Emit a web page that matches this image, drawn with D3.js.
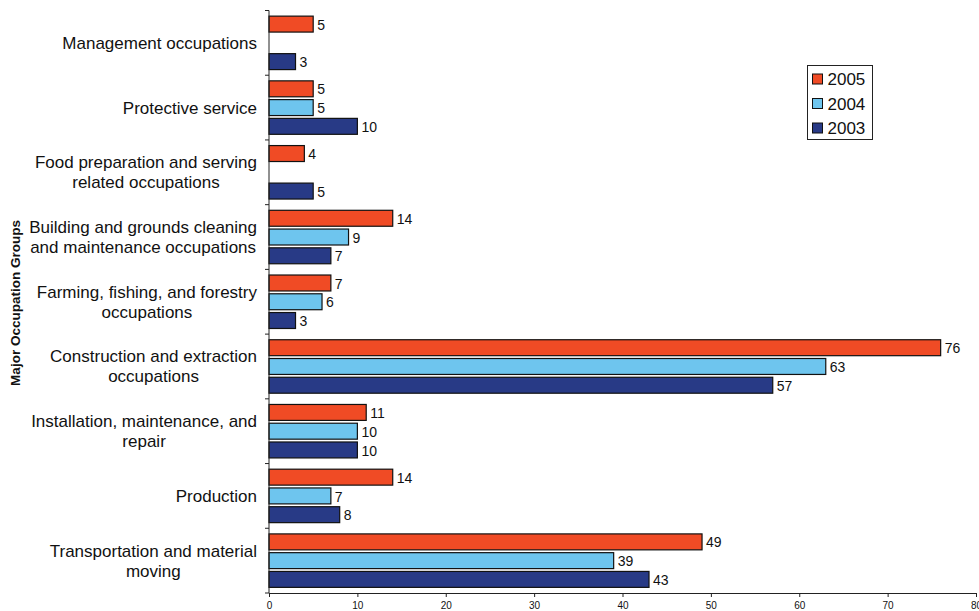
<!DOCTYPE html>
<html>
<head>
<meta charset="utf-8">
<script src="https://cdn.jsdelivr.net/npm/d3@7"></script>
<style>
  html, body { margin: 0; padding: 0; background: #fff; }
  svg { display: block; font-family: "Liberation Sans", Arial, sans-serif; }
</style>
</head>
<body>
<svg id="chart" width="979" height="611"></svg>
<script>
// Occupation groups, top to bottom
const categories = [
  ["Management occupations"],
  ["Protective service"],
  ["Food preparation and serving", "related occupations"],
  ["Building and grounds cleaning", "and maintenance occupations"],
  ["Farming, fishing, and forestry", "occupations"],
  ["Construction and extraction", "occupations"],
  ["Installation, maintenance, and", "repair"],
  ["Production"],
  ["Transportation and material", "moving"]
];
const years = ["2005", "2004", "2003"];
const values2005 = [5, 5, 4, 14, 7, 76, 11, 14, 49];
const values2004 = [null, 5, null, 9, 6, 63, 10, 7, 39];
const values2003 = [3, 10, 5, 7, 3, 57, 10, 8, 43];
const xTicks = [0, 10, 20, 30, 40, 50, 60, 70, 80];
const colors = ["#F04B25", "#6EC5EE", "#283A86"];

const seriesValues = [values2005, values2004, values2003];
const keys = categories.map((c, i) => i);

const svg = d3.select("#chart");
const plotLeft = 269, plotRight = 976, plotTop = 10.5, plotBottom = 593;

const x = d3.scaleLinear().domain([0, 80]).range([plotLeft, plotRight]);
const y = d3.scaleBand().domain(keys).range([plotTop, plotBottom]);
const yInner = d3.scaleBand().domain(years).range([0, y.bandwidth()])
  .paddingInner(0.15).paddingOuter(0.3);
const color = d3.scaleOrdinal().domain(years).range(colors);

// bars and value labels
const groups = svg.append("g").selectAll("g")
  .data(keys).join("g")
  .attr("transform", k => `translate(0,${y(k)})`);

groups.each(function (k) {
  const g = d3.select(this);
  const rows = years.map((yr, s) => ({ yr, v: seriesValues[s][k] }))
    .filter(d => d.v != null);
  g.selectAll("rect").data(rows).join("rect")
    .attr("x", x(0))
    .attr("y", d => yInner(d.yr))
    .attr("width", d => x(d.v) - x(0))
    .attr("height", yInner.bandwidth())
    .attr("fill", d => color(d.yr))
    .attr("stroke", "#111")
    .attr("stroke-width", 1.2);
  g.selectAll("text").data(rows).join("text")
    .attr("x", d => x(d.v) + 4)
    .attr("y", d => yInner(d.yr) + yInner.bandwidth() / 2)
    .attr("dy", "0.4em")
    .attr("font-size", 14)
    .attr("fill", "#111")
    .text(d => d.v);
});

// x axis
const xAxis = svg.append("g")
  .attr("transform", `translate(0,${plotBottom})`)
  .call(d3.axisBottom(x).tickValues(xTicks).tickSize(4).tickSizeOuter(0));
xAxis.select(".domain").attr("stroke", "#222");
xAxis.selectAll(".tick line").attr("stroke", "#222");
xAxis.selectAll(".tick text")
  .attr("font-size", 10)
  .attr("font-family", "'Liberation Sans Narrow', 'Liberation Sans', Arial, sans-serif")
  .attr("fill", "#111")
  .attr("dy", "0.9em");

// y axis line and category separators
svg.append("line")
  .attr("x1", plotLeft).attr("x2", plotLeft)
  .attr("y1", plotTop).attr("y2", plotBottom)
  .attr("stroke", "#222");
svg.append("g").selectAll("line")
  .data(keys.map(k => y(k)).concat([plotBottom]))
  .join("line")
  .attr("x1", plotLeft - 4).attr("x2", plotLeft)
  .attr("y1", d => d).attr("y2", d => d)
  .attr("stroke", "#222");

// category labels, lines centred on each other, block right-aligned to the axis
const labelRight = 257;
const labels = svg.append("g").selectAll("text")
  .data(keys).join("text")
  .attr("text-anchor", "middle")
  .attr("font-size", 17)
  .attr("fill", "#111");
labels.each(function (k) {
  const lines = categories[k];
  const lh = 20;
  const start = -(lines.length - 1) * lh / 2;
  const t = d3.select(this);
  t.selectAll("tspan").data(lines).join("tspan")
    .attr("x", 0)
    .attr("y", (d, i) => start + i * lh)
    .attr("dy", "0.35em")
    .text(d => d);
  let w = 0;
  t.selectAll("tspan").each(function () {
    w = Math.max(w, this.getComputedTextLength());
  });
  t.attr("transform", `translate(${labelRight - w / 2},${y(k) + y.bandwidth() / 2})`);
});

// axis title
svg.append("text")
  .attr("transform", `translate(20,303) rotate(-90)`)
  .attr("text-anchor", "middle")
  .attr("font-size", 13.5)
  .attr("font-weight", "bold")
  .attr("fill", "#111")
  .text("Major Occupation Groups");

// legend
const lg = svg.append("g").attr("transform", "translate(807.5,65.5)");
lg.append("rect")
  .attr("width", 65).attr("height", 74)
  .attr("fill", "#fff").attr("stroke", "#222");
years.forEach((yr, i) => {
  const row = lg.append("g").attr("transform", `translate(5,${13.5 + i * 24.5})`);
  row.append("rect")
    .attr("x", 0).attr("y", -5).attr("width", 10).attr("height", 10)
    .attr("fill", color(yr)).attr("stroke", "#111");
  row.append("text")
    .attr("x", 15).attr("dy", "0.36em")
    .attr("font-size", 17).attr("fill", "#111")
    .text(yr);
});
</script>
</body>
</html>
